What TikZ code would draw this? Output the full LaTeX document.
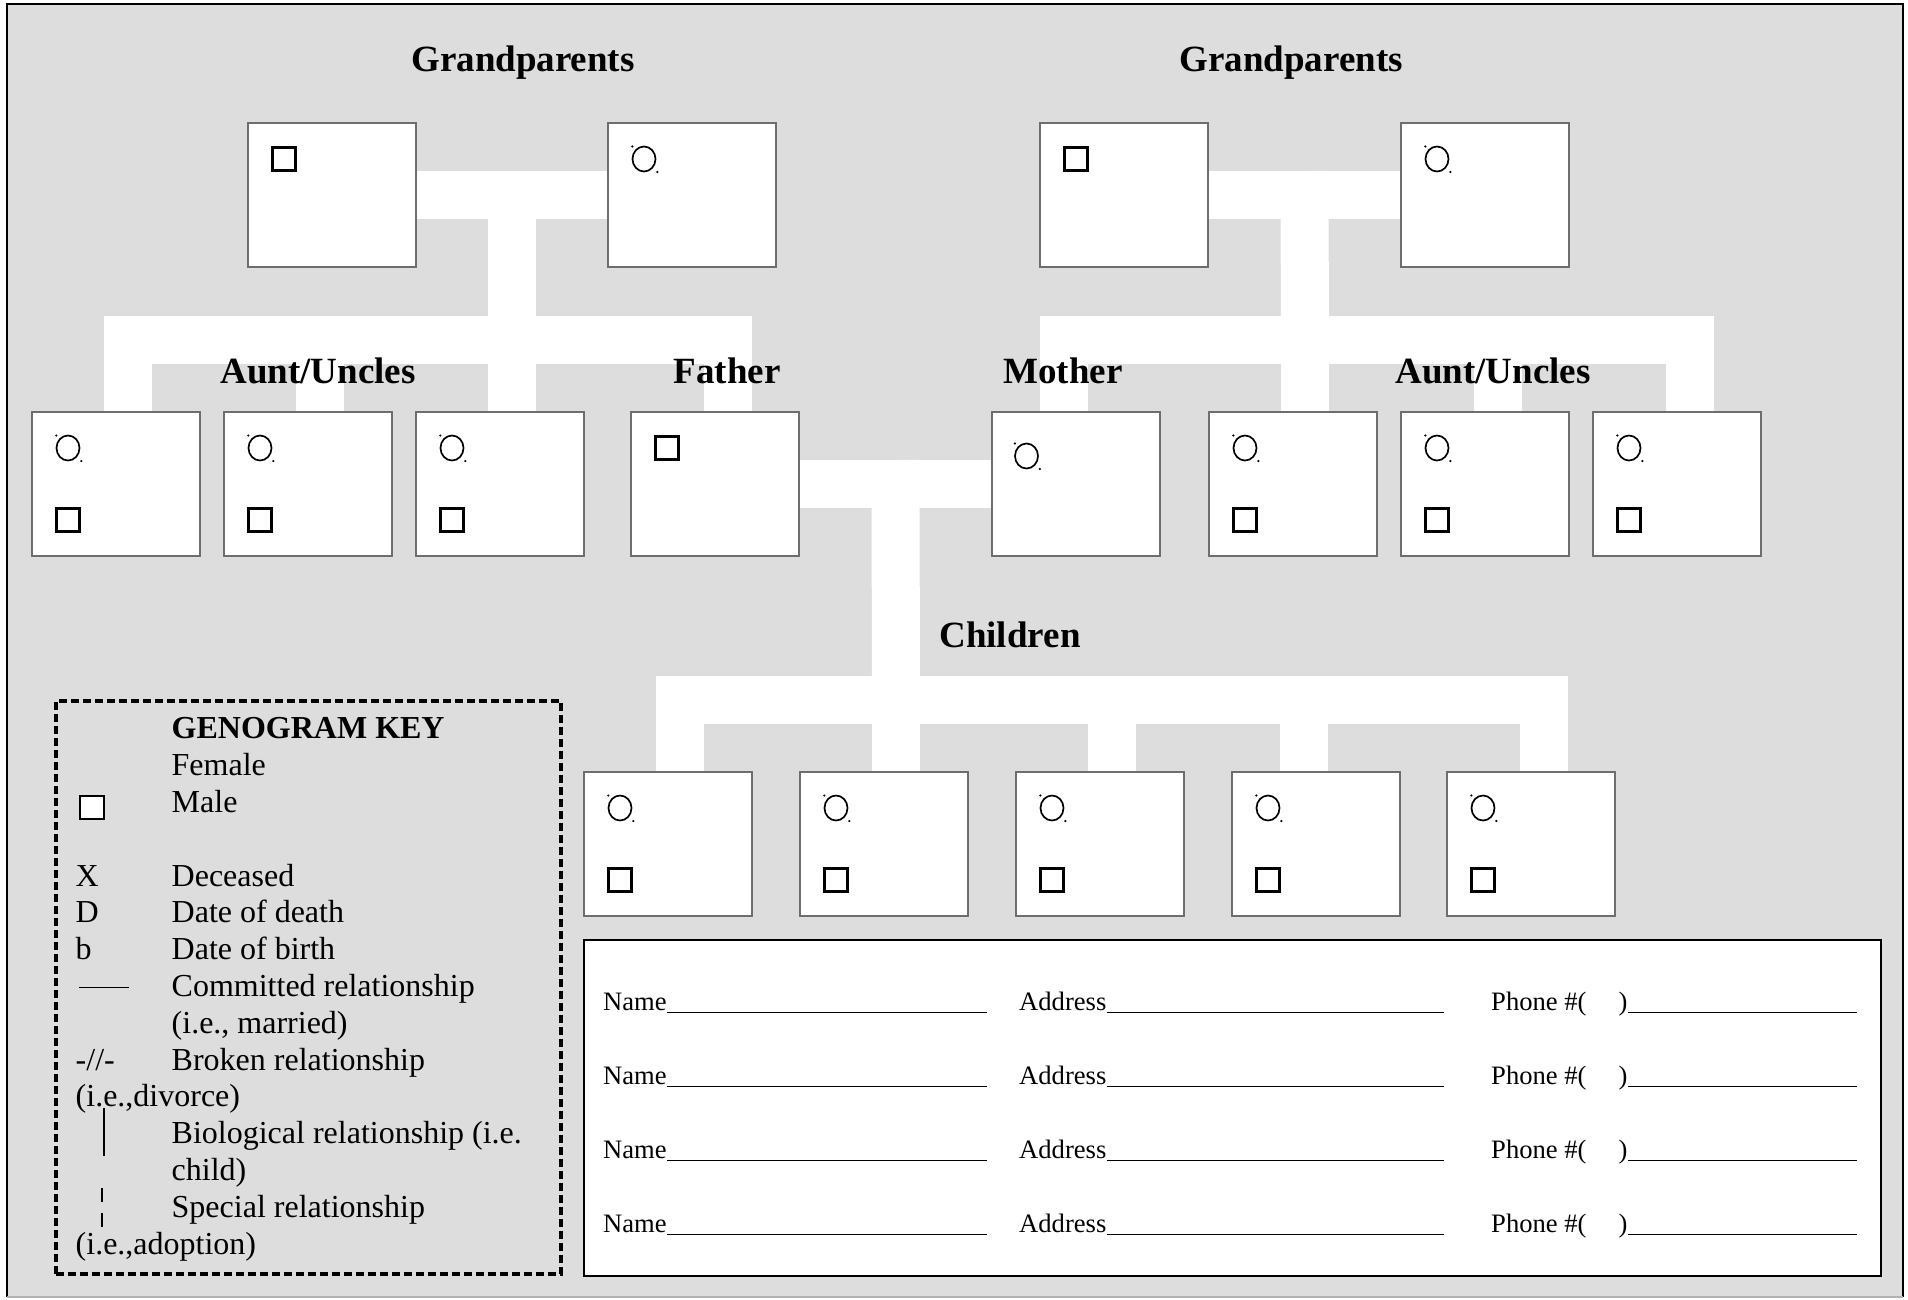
\documentclass[tikz,border=0pt]{standalone}
\usepackage{fontspec}
\setmainfont{Liberation Serif}
\usetikzlibrary{calc}
\definecolor{bggray}{HTML}{DDDDDD}
\definecolor{boxline}{HTML}{6E6E6E}
\pgfdeclarelayer{bg}
\pgfsetlayers{bg,main}
\tikzset{
  band/.style={white, line width=48pt, line cap=rect, line join=miter},
  pbox/.style={draw=boxline, fill=white, line width=1.5pt, minimum width=168pt, minimum height=144pt, inner sep=0pt, outer sep=0pt, anchor=north west},
  keybox/.style={draw=black, line width=3.5pt, dash pattern=on 8pt off 4pt, minimum width=505pt, minimum height=573pt, inner sep=0pt, outer sep=0pt, anchor=north west},
  formbox/.style={draw=black, fill=white, line width=2.5pt, minimum width=1297pt, minimum height=336pt, inner sep=0pt, outer sep=0pt, anchor=north west},
  head/.style={font=\fontsize{37}{44}\selectfont\bfseries, inner sep=0pt, anchor=base},
  keytxt/.style={font=\fontsize{32}{38}\selectfont, inner sep=0pt, anchor=base west},
  formtxt/.style={font=\fontsize{26.6}{32}\selectfont, inner sep=0pt, anchor=base west},
  uline/.style={line width=1.5pt},
  male/.pic={\draw[line width=2.5pt] (-11.5,-11.5) rectangle (11.5,11.5);},
  female/.pic={\draw[line width=1.7pt] (0,0) ellipse[x radius=11.5, y radius=12.5];
               \fill (-11.7,-12.5) circle[radius=1.2];
               \fill (13.3,13) circle[radius=1.2];}
}
\begin{document}
\begin{tikzpicture}[x=1pt,y=-1pt]
\useasboundingbox (0,0) rectangle (1908,1299);

% person boxes
\node[pbox] (gp1) at (248,123) {};
\node[pbox] (gp2) at (608,123) {};
\node[pbox] (gp3) at (1040,123) {};
\node[pbox] (gp4) at (1401,123) {};
\node[pbox] (l1) at (32,412) {};
\node[pbox] (l2) at (224,412) {};
\node[pbox] (l3) at (416,412) {};
\node[pbox] (fa) at (631,412) {};
\node[pbox] (mo) at (992,412) {};
\node[pbox] (r1) at (1209,412) {};
\node[pbox] (r2) at (1401,412) {};
\node[pbox] (r3) at (1593,412) {};
\node[pbox] (c1) at (584,772) {};
\node[pbox] (c2) at (800,772) {};
\node[pbox] (c3) at (1016,772) {};
\node[pbox] (c4) at (1232,772) {};
\node[pbox] (c5) at (1447,772) {};

% junction coordinates
\coordinate (gpL) at ($(gp1)!0.5!(gp2)$);
\coordinate (sibL) at (512,340);
\coordinate (gpR) at ($(gp3)!0.5!(gp4)$);
\coordinate (sibR) at (1305,340);
\coordinate (par) at ($(fa)!0.5!(mo)$);
\coordinate (kids) at (896,699.5);

\begin{pgfonlayer}{bg}
  \fill[white] (0,0) rectangle (1908,1299);
  \fill[bggray] (7,4) rectangle (1903,1297);
  \draw[line width=2.5pt] (7,1297) -- (7,4) -- (1903,4) -- (1903,1297);
  \draw[gray!60, line width=1.5pt] (7,1297) -- (1903,1297);
  % connector bands
  \draw[band] (gp1) -- (gp2);
  \draw[band] (gpL) -- (sibL);
  \foreach \b/\dx in {l1/11.5, l2/12, l3/12, fa/12.5}
    \draw[band] (sibL) -| ($(\b.north)+(\dx,0)$);
  \draw[band] (gp3) -- (gp4);
  \draw[band] (gpR) -- (sibR);
  \foreach \b/\dx in {mo/-12.5, r1/11.5, r2/12.5, r3/12.5}
    \draw[band] (sibR) -| ($(\b.north)+(\dx,0)$);
  \draw[band] (fa) -- (mo);
  \draw[band] (par) -- (kids);
  \foreach \b/\dx in {c1/12, c2/12, c3/12, c4/-12, c5/13}
    \draw[band] (kids) -| ($(\b.north)+(\dx,0)$);
\end{pgfonlayer}

% symbols
\pic at ($(gp1.north west)+(36,36)$) {male};
\pic at ($(gp2.north west)+(36,36)$) {female};
\pic at ($(gp3.north west)+(36,36)$) {male};
\pic at ($(gp4.north west)+(36,36)$) {female};
\pic at ($(fa.north west)+(36,36)$) {male};
\pic at ($(mo.north west)+(34.5,44)$) {female};
\foreach \b in {l1,l2,l3,r1,r2,r3,c1,c2,c3,c4,c5} {
  \pic at ($(\b.north west)+(36,36)$) {female};
  \pic at ($(\b.north west)+(36,108)$) {male};
}

% headings
\node[head] (hgp1) at (523,71) {Grandparents};
\node[head] (hgp2) at (1291,71) {Grandparents};
\node[head] (hau1) at (318,383) {Aunt/Uncles};
\node[head] (hfa) at (727,383) {Father};
\node[head] (hmo) at (1063,383) {Mother};
\node[head] (hau2) at (1493,383) {Aunt/Uncles};
\node[head] (hch) at (1010,647) {Children};

% key
\node[keybox] (key) at (56,701) {};
\node[keytxt, font=\fontsize{32}{38}\selectfont\bfseries] (k0) at (171.5,738.5) {GENOGRAM KEY};
\node[keytxt] (k1) at (171.5,775.5) {Female};
\node[draw, fill=white, line width=2pt, minimum width=24pt, minimum height=23pt, inner sep=0pt] (ksq) at (92,807.5) {};
\node[keytxt] (k2) at (171.5,812.5) {Male};
\node[keytxt] (k3a) at (75.5,886) {X};
\node[keytxt] (k3) at (171.5,886) {Deceased};
\node[keytxt] (k4a) at (75.5,922.5) {D};
\node[keytxt] (k4) at (171.5,922.5) {Date of death};
\node[keytxt] (k5a) at (75.5,959) {b};
\node[keytxt] (k5) at (171.5,959) {Date of birth};
\draw[line width=1.7pt] (79,987.5) -- (128.5,987.5);
\node[keytxt] (k6) at (171.5,996) {Committed relationship};
\node[keytxt] (k6b) at (171.5,1033) {(i.e., married)};
\node[keytxt] (k7a) at (75.5,1070) {-//-};
\node[keytxt] (k7) at (171.5,1070) {Broken relationship};
\node[keytxt] (k7b) at (75.5,1106.5) {(i.e.,divorce)};
\draw[line width=2pt] (104,1107.5) -- (104,1156);
\node[keytxt] (k8) at (171.5,1143.5) {Biological relationship (i.e.};
\node[keytxt] (k8b) at (171.5,1180) {child)};
\draw[line width=1.7pt, dash pattern=on 14pt off 11pt] (102,1188) -- (102,1227);
\node[keytxt] (k9) at (171.5,1217) {Special relationship};
\node[keytxt] (k9b) at (75.5,1254) {(i.e.,adoption)};

% contact form
\node[formbox] (form) at (584,940) {};
\foreach \y [count=\i] in {1010,1084,1158,1232} {
  \node[formtxt] (nm\i) at (603,\y) {Name};
  \draw[uline] ([yshift=-2.5pt]nm\i.base east) -- (987,\y+2.5);
  \node[formtxt] (ad\i) at (1019,\y) {Address};
  \draw[uline] ([yshift=-2.5pt]ad\i.base east) -- (1444,\y+2.5);
  \node[formtxt] (ph\i) at (1491,\y) {Phone \#(\hspace{32pt})};
  \draw[uline] ([yshift=-2.5pt]ph\i.base east) -- (1857,\y+2.5);
}
\end{tikzpicture}
\end{document}
